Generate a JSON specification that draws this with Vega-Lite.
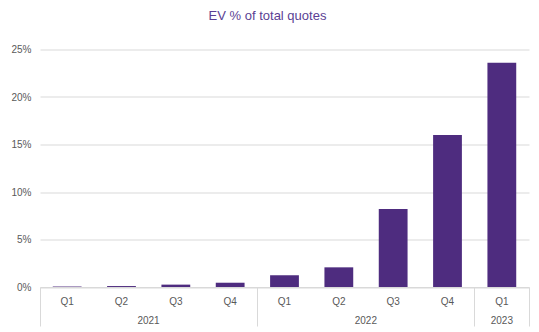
{
  "$schema": "https://vega.github.io/schema/vega-lite/v6.json",
  "autosize": {"type": "none"},
  "width": 489,
  "height": 237.5,
  "padding": {"left": 40, "top": 49.5, "right": 10, "bottom": 45},
  "background": "white",
  "title": {
    "text": "EV % of total quotes",
    "font": "Liberation Sans",
    "fontSize": 13,
    "fontWeight": "normal",
    "color": "#5b3f94",
    "anchor": "middle",
    "frame": "group",
    "baseline": "bottom",
    "offset": 9,
    "dx": -17
  },
  "data": {
    "values": [
      {"period": "2021 Q1", "pct": 0.05},
      {"period": "2021 Q2", "pct": 0.1},
      {"period": "2021 Q3", "pct": 0.25},
      {"period": "2021 Q4", "pct": 0.45},
      {"period": "2022 Q1", "pct": 1.25},
      {"period": "2022 Q2", "pct": 2.07},
      {"period": "2022 Q3", "pct": 8.2},
      {"period": "2022 Q4", "pct": 16.0},
      {"period": "2023 Q1", "pct": 23.6}
    ]
  },
  "encoding": {
    "y": {
      "field": "pct",
      "type": "quantitative",
      "scale": {"domain": [0, 25], "nice": false},
      "axis": {
        "title": null,
        "values": [0, 5, 10, 15, 20, 25],
        "labelExpr": "datum.value + '%'",
        "domain": false,
        "ticks": false,
        "grid": true,
        "gridColor": "#d9d9d9",
        "labelColor": "#595959",
        "labelFont": "Liberation Sans",
        "labelFontSize": 10,
        "labelPadding": 9
      }
    }
  },
  "layer": [
    {
      "mark": {"type": "bar", "color": "#4e2c7f"},
      "encoding": {
        "x": {
          "field": "period",
          "type": "nominal",
          "sort": null,
          "scale": {"paddingInner": 0.47, "paddingOuter": 0.235},
          "axis": {
            "orient": "bottom",
            "title": null,
            "labelExpr": "split(datum.value, ' ')[1]",
            "labelAngle": 0,
            "ticks": false,
            "domain": true,
            "domainColor": "#d9d9d9",
            "labelColor": "#595959",
            "labelFont": "Liberation Sans",
            "labelFontSize": 10,
            "labelPadding": 9,
            "grid": false
          }
        }
      }
    },
    {
      "mark": {"type": "bar", "opacity": 0},
      "encoding": {
        "x": {
          "field": "period",
          "type": "nominal",
          "sort": null,
          "scale": {"paddingInner": 0, "paddingOuter": 0},
          "axis": {
            "orient": "bottom",
            "title": null,
            "bandPosition": 1,
            "tickExtra": true,
            "ticks": true,
            "tickSize": 39,
            "tickColor": "#d9d9d9",
            "tickOpacity": {
              "condition": {
                "test": "!isDefined(datum.value) || indexof(['2021 Q4', '2022 Q4', '2023 Q1'], datum.value) >= 0",
                "value": 1
              },
              "value": 0
            },
            "domain": false,
            "labelExpr": "datum.value == '2021 Q2' ? '2021' : datum.value == '2022 Q2' ? '2022' : ''",
            "labelOffset": 27,
            "labelAngle": 0,
            "labelColor": "#595959",
            "labelFont": "Liberation Sans",
            "labelFontSize": 10,
            "labelPadding": -11,
            "grid": false
          }
        }
      }
    },
    {
      "mark": {"type": "bar", "opacity": 0},
      "encoding": {
        "x": {
          "field": "period",
          "type": "nominal",
          "sort": null,
          "scale": {"paddingInner": 0, "paddingOuter": 0},
          "axis": {
            "orient": "bottom",
            "title": null,
            "ticks": false,
            "domain": false,
            "labelExpr": "datum.value == '2023 Q1' ? '2023' : ''",
            "labelAngle": 0,
            "labelColor": "#595959",
            "labelFont": "Liberation Sans",
            "labelFontSize": 10,
            "labelPadding": 28,
            "grid": false
          }
        }
      }
    }
  ],
  "resolve": {"scale": {"x": "independent"}, "axis": {"x": "independent"}},
  "config": {"view": {"stroke": null}}
}
